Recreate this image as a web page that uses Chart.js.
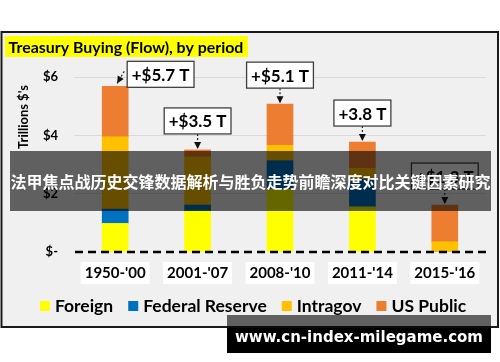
<!DOCTYPE html>
<html><head><meta charset="utf-8">
<script src="https://cdn.jsdelivr.net/npm/chart.js@4/dist/chart.umd.min.js"></script>
<style>
html,body{margin:0;padding:0;background:#fff;}
#wrap{position:relative;width:500px;height:362px;overflow:hidden;}
canvas{position:absolute;left:0;top:0;}
#banner{position:absolute;left:10px;top:151px;width:481px;height:60px;background:rgba(0,0,0,0.6);color:#fff;font:bold 16px "Noto Sans CJK SC";line-height:60px;text-align:center;white-space:nowrap;}
#wm{position:absolute;left:227px;top:315px;width:264px;height:26px;padding-top:12px;background:linear-gradient(to bottom, rgba(0,0,0,0.6) 0px, rgba(0,0,0,0.6) 13px, #000 13px);color:#fff;font:bold 15px "DejaVu Sans";line-height:20px;text-align:center;white-space:nowrap;}
</style>
</head><body>
<div id="wrap">
<canvas id="c" width="500" height="362"></canvas>
<div id="banner">法甲焦点战历史交锋数据解析与胜负走势前瞻深度对比关键因素研究</div>
<div id="wm">www.cn-index-milegame.com</div>
</div>
<script>
const categories = ["1950-'00", "2001-'07", "2008-'10", "2011-'14", "2015-'16"];
const foreign    = [0.98, 1.40, 2.15, 1.55, 0];
const federalRes = [0.49, 0.21, 0.98, 0.94, 0];
const intragov   = [2.48, 1.65, 0.53, 0.38, 0.35];
const usPublic   = [1.73, 0.24, 1.41, 0.90, 1.26];
const totalLabels = ['+$5.7 T', '+$3.5 T', '+$5.1 T', '+3.8 T', '+$1.3 T'];
const yTicks = [0, 2, 4, 6];
const titleText = 'Treasury Buying (Flow), by period';
const yTitle = "Trillions $'s";

const FONT = 'Lato';

const decor = {
  id: 'decor',
  beforeDraw(c) {
    const g = c.ctx; g.save();
    g.fillStyle = '#fff'; g.fillRect(0, 0, c.width, c.height);
    g.fillStyle = '#f0f0f0'; g.fillRect(1.5, 32, 496.5, 295);
    g.strokeStyle = '#1a1a1a'; g.lineWidth = 2; g.strokeRect(1.5, 32, 496.5, 295);
    // title
    g.fillStyle = '#ffff00'; g.fillRect(5, 36, 243, 21);
    g.fillStyle = '#000'; g.textBaseline = 'middle'; g.textAlign = 'left';
    let fs = 16; g.font = 'bold ' + fs + 'px ' + FONT;
    const tw = g.measureText(titleText).width;
    fs = fs * 235 / tw; g.font = 'bold ' + fs.toFixed(2) + 'px ' + FONT;
    g.fillText(titleText, 8.5, 47.5);
    // y title
    g.save();
    g.translate(24, 117); g.rotate(-Math.PI / 2);
    g.textAlign = 'center'; g.font = 'bold 13px ' + FONT; g.fillStyle = '#000';
    g.fillText(yTitle, 0, 0);
    g.restore();
    g.restore();
  },
  afterDatasetsDraw(c) {
    const g = c.ctx; const a = c.chartArea; const ys = c.scales.y;
    g.save();
    // zero dashed line
    const y0 = ys.getPixelForValue(0);
    g.strokeStyle = '#000'; g.lineWidth = 2.5; g.setLineDash([8, 5]);
    g.beginPath(); g.moveTo(a.left + 1, y0); g.lineTo(a.right, y0); g.stroke();
    g.setLineDash([]);
    // annotations
    const meta = c.getDatasetMeta(3);
    g.font = 'bold 17px ' + FONT; g.textBaseline = 'middle'; g.textAlign = 'center';
    meta.data.forEach((bar, i) => {
      const cx = bar.x, top = bar.y;
      const w = g.measureText(totalLabels[i]).width + 9, h = 26;
      let bx, by, x1, y1, x2, y2;
      if (i === 0) { bx = cx + 12; by = top - 25; x1 = bx - 3; y1 = by + 10; x2 = cx + 2; y2 = top - 3; }
      else { bx = cx - w / 2; by = top - 16 - h; x1 = cx; y1 = by + h; x2 = cx; y2 = top - 1; }
      // arrow
      g.strokeStyle = '#222'; g.lineWidth = 1.2; g.setLineDash([2, 2]);
      g.beginPath(); g.moveTo(x1, y1); g.lineTo(x2, y2); g.stroke(); g.setLineDash([]);
      const ang = Math.atan2(y2 - y1, x2 - x1);
      g.fillStyle = '#111';
      g.beginPath();
      g.moveTo(x2, y2);
      g.lineTo(x2 - 7 * Math.cos(ang) + 3.5 * Math.sin(ang), y2 - 7 * Math.sin(ang) - 3.5 * Math.cos(ang));
      g.lineTo(x2 - 7 * Math.cos(ang) - 3.5 * Math.sin(ang), y2 - 7 * Math.sin(ang) + 3.5 * Math.cos(ang));
      g.closePath(); g.fill();
      // box
      g.fillStyle = '#fff'; g.fillRect(bx, by, w, h);
      g.strokeStyle = '#404040'; g.lineWidth = 1.3; g.strokeRect(bx, by, w, h);
      g.fillStyle = '#000'; g.fillText(totalLabels[i], bx + w / 2, by + h / 2 + 1);
    });
    // legend
    g.font = 'bold 17.5px ' + FONT; g.textAlign = 'left';
    const items = c.data.datasets.map(d => ({ t: d.label, col: d.backgroundColor, w: g.measureText(d.label).width }));
    let total = 0; items.forEach((it, k) => { total += 15 + it.w + (k < items.length - 1 ? 15 : 0); });
    let x = 253 - total / 2;
    items.forEach(it => {
      g.fillStyle = it.col; g.fillRect(x, 301, 10, 10);
      g.fillStyle = '#000'; g.fillText(it.t, x + 15, 306.5);
      x += 15 + it.w + 15;
    });
    g.restore();
  }
};

new Chart(document.getElementById('c'), {
  type: 'bar',
  data: {
    labels: categories,
    datasets: [
      { label: 'Foreign', data: foreign, backgroundColor: '#ffff00' },
      { label: 'Federal Reserve', data: federalRes, backgroundColor: '#0070c0' },
      { label: 'Intragov', data: intragov, backgroundColor: '#ffc000' },
      { label: 'US Public', data: usPublic, backgroundColor: '#ed7d31' }
    ]
  },
  options: {
    responsive: false, animation: false,
    datasets: { bar: { barThickness: 26, borderWidth: 0 } },
    layout: { padding: { top: 77, right: 14, left: 0, bottom: 0 } },
    plugins: { legend: { display: false }, tooltip: { enabled: false } },
    scales: {
      x: {
        stacked: true,
        grid: { display: false, drawTicks: false }, border: { display: false },
        ticks: { color: '#000', font: { family: FONT, weight: 'bold', size: 15 }, padding: 12,
          showLabelBackdrop: true, backdropColor: '#ffffff', backdropPadding: { x: 4, y: 2 } },
        afterFit(s) { s.height = 110; }
      },
      y: {
        stacked: true, min: 0, max: 6,
        afterBuildTicks(s) { s.ticks = yTicks.map(v => ({ value: v })); },
        ticks: { color: '#000', font: { family: FONT, weight: 'bold', size: 13 }, padding: 16,
          callback: v => v === 0 ? '$-' : '$' + v },
        grid: { color: ctx => (ctx.tick && ctx.tick.value === 0) ? 'rgba(0,0,0,0)' : '#d9d9d9', drawTicks: false, lineWidth: 1 },
        border: { display: false },
        afterFit(s) { s.width = 74; }
      }
    }
  },
  plugins: [decor]
});
</script>
</body></html>
